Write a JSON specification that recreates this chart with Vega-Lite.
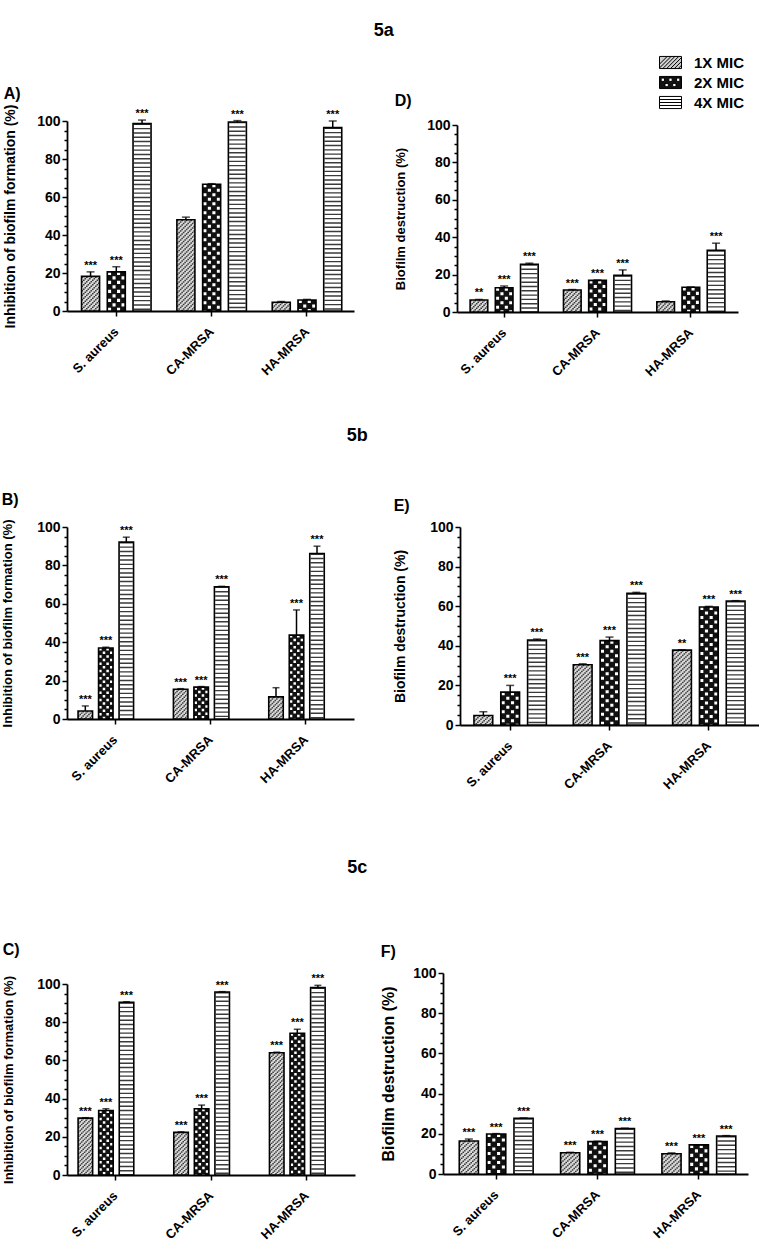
{
"$schema":"https://vega.github.io/schema/vega-lite/v6.json",
"padding":{"left":1,"top":21,"right":0,"bottom":0},
"datasets":{"bars":[
{"p":"A","org":"S. aureus","mic":"1X MIC","v":18.2,"hi":20.6,"sig":"***"},
{"p":"A","org":"S. aureus","mic":"2X MIC","v":20.6,"hi":23.3,"sig":"***"},
{"p":"A","org":"S. aureus","mic":"4X MIC","v":98.6,"hi":100.5,"sig":"***"},
{"p":"A","org":"CA-MRSA","mic":"1X MIC","v":48.0,"hi":49.4,"sig":""},
{"p":"A","org":"CA-MRSA","mic":"2X MIC","v":66.7,"hi":67.0,"sig":""},
{"p":"A","org":"CA-MRSA","mic":"4X MIC","v":99.5,"hi":100.2,"sig":"***"},
{"p":"A","org":"HA-MRSA","mic":"1X MIC","v":4.6,"hi":5.0,"sig":""},
{"p":"A","org":"HA-MRSA","mic":"2X MIC","v":5.8,"hi":6.1,"sig":""},
{"p":"A","org":"HA-MRSA","mic":"4X MIC","v":96.5,"hi":100.0,"sig":"***"},
{"p":"D","org":"S. aureus","mic":"1X MIC","v":6.4,"hi":6.7,"sig":"**"},
{"p":"D","org":"S. aureus","mic":"2X MIC","v":13.0,"hi":13.9,"sig":"***"},
{"p":"D","org":"S. aureus","mic":"4X MIC","v":25.5,"hi":26.1,"sig":"***"},
{"p":"D","org":"CA-MRSA","mic":"1X MIC","v":11.8,"hi":12.0,"sig":"***"},
{"p":"D","org":"CA-MRSA","mic":"2X MIC","v":16.9,"hi":17.1,"sig":"***"},
{"p":"D","org":"CA-MRSA","mic":"4X MIC","v":19.6,"hi":22.5,"sig":"***"},
{"p":"D","org":"HA-MRSA","mic":"1X MIC","v":5.5,"hi":5.9,"sig":""},
{"p":"D","org":"HA-MRSA","mic":"2X MIC","v":13.2,"hi":13.4,"sig":""},
{"p":"D","org":"HA-MRSA","mic":"4X MIC","v":33.0,"hi":36.8,"sig":"***"},
{"p":"B","org":"S. aureus","mic":"1X MIC","v":4.2,"hi":6.8,"sig":"***"},
{"p":"B","org":"S. aureus","mic":"2X MIC","v":37.0,"hi":37.4,"sig":"***"},
{"p":"B","org":"S. aureus","mic":"4X MIC","v":92.1,"hi":94.7,"sig":"***"},
{"p":"B","org":"CA-MRSA","mic":"1X MIC","v":15.5,"hi":15.8,"sig":"***"},
{"p":"B","org":"CA-MRSA","mic":"2X MIC","v":16.6,"hi":16.9,"sig":"***"},
{"p":"B","org":"CA-MRSA","mic":"4X MIC","v":68.9,"hi":69.1,"sig":"***"},
{"p":"B","org":"HA-MRSA","mic":"1X MIC","v":11.5,"hi":16.3,"sig":""},
{"p":"B","org":"HA-MRSA","mic":"2X MIC","v":43.7,"hi":56.8,"sig":"***"},
{"p":"B","org":"HA-MRSA","mic":"4X MIC","v":86.2,"hi":90.0,"sig":"***"},
{"p":"E","org":"S. aureus","mic":"1X MIC","v":4.8,"hi":6.7,"sig":""},
{"p":"E","org":"S. aureus","mic":"2X MIC","v":16.6,"hi":20.0,"sig":"***"},
{"p":"E","org":"S. aureus","mic":"4X MIC","v":42.9,"hi":43.4,"sig":"***"},
{"p":"E","org":"CA-MRSA","mic":"1X MIC","v":30.4,"hi":30.9,"sig":"***"},
{"p":"E","org":"CA-MRSA","mic":"2X MIC","v":42.6,"hi":44.4,"sig":"***"},
{"p":"E","org":"CA-MRSA","mic":"4X MIC","v":66.5,"hi":67.0,"sig":"***"},
{"p":"E","org":"HA-MRSA","mic":"1X MIC","v":37.8,"hi":38.0,"sig":"**"},
{"p":"E","org":"HA-MRSA","mic":"2X MIC","v":59.6,"hi":59.9,"sig":"***"},
{"p":"E","org":"HA-MRSA","mic":"4X MIC","v":62.6,"hi":62.8,"sig":"***"},
{"p":"C","org":"S. aureus","mic":"1X MIC","v":29.8,"hi":30.0,"sig":"***"},
{"p":"C","org":"S. aureus","mic":"2X MIC","v":33.8,"hi":34.7,"sig":"***"},
{"p":"C","org":"S. aureus","mic":"4X MIC","v":90.4,"hi":90.7,"sig":"***"},
{"p":"C","org":"CA-MRSA","mic":"1X MIC","v":22.3,"hi":22.6,"sig":"***"},
{"p":"C","org":"CA-MRSA","mic":"2X MIC","v":34.7,"hi":36.6,"sig":"***"},
{"p":"C","org":"CA-MRSA","mic":"4X MIC","v":95.8,"hi":96.0,"sig":"***"},
{"p":"C","org":"HA-MRSA","mic":"1X MIC","v":64.0,"hi":64.3,"sig":"***"},
{"p":"C","org":"HA-MRSA","mic":"2X MIC","v":74.2,"hi":76.3,"sig":"***"},
{"p":"C","org":"HA-MRSA","mic":"4X MIC","v":98.1,"hi":99.3,"sig":"***"},
{"p":"F","org":"S. aureus","mic":"1X MIC","v":16.4,"hi":17.4,"sig":"***"},
{"p":"F","org":"S. aureus","mic":"2X MIC","v":19.9,"hi":20.1,"sig":"***"},
{"p":"F","org":"S. aureus","mic":"4X MIC","v":27.7,"hi":27.9,"sig":"***"},
{"p":"F","org":"CA-MRSA","mic":"1X MIC","v":10.6,"hi":10.8,"sig":"***"},
{"p":"F","org":"CA-MRSA","mic":"2X MIC","v":16.1,"hi":16.3,"sig":"***"},
{"p":"F","org":"CA-MRSA","mic":"4X MIC","v":22.6,"hi":22.8,"sig":"***"},
{"p":"F","org":"HA-MRSA","mic":"1X MIC","v":10.1,"hi":10.5,"sig":"***"},
{"p":"F","org":"HA-MRSA","mic":"2X MIC","v":14.5,"hi":14.6,"sig":"***"},
{"p":"F","org":"HA-MRSA","mic":"4X MIC","v":18.9,"hi":19.1,"sig":"***"}
]},
"data":{"name":"bars"},
"config":{
"font":"Liberation Sans",
"view":{"stroke":null},
"title":{"fontWeight":"bold","color":"black"},
"axis":{"grid":false,"domainColor":"black","domainWidth":1.8,"tickColor":"black","tickWidth":1.5,"labelColor":"black","labelFontWeight":"bold","titleColor":"black","titleFontWeight":"bold"},
"axisX":{"labelAngle":-45,"labelFontSize":13,"tickSize":5,"labelPadding":9,"labelOffset":-4},
"axisY":{"labelFontSize":14,"labelPadding":2},
"legend":{"orient":"none","legendX":592,"legendY":-70,"symbolSize":484,"symbolStrokeColor":"black","symbolStrokeWidth":1,"symbolOpacity":1,"labelFontSize":15,"labelFontWeight":"bold","labelColor":"black","labelOffset":12,"rowPadding":-1,"padding":0}
},
"resolve":{"scale":{"xOffset":"independent"}},
"spacing":67,
"vconcat":[
{"spacing":48,"resolve":{"scale":{"xOffset":"independent"}},"vconcat":[
{"title":{"text":"5a","fontSize":18,"anchor":"middle","dx":13,"offset":46},"spacing":40,"resolve":{"scale":{"xOffset":"independent"}},"hconcat":[
{"width":287,"height":190,
"title":{"text":"A)","anchor":"start","frame":"bounds","fontSize":16,"offset":2.5},
"transform":[{"filter":"datum.p == 'A'"}],
"encoding":{
"x":{"field":"org","type":"nominal","title":null,"scale":{"type":"band","domain":["S. aureus","CA-MRSA","HA-MRSA"],"paddingInner":0.19,"paddingOuter":0.1,"align":0.56}},
"xOffset":{"field":"mic","type":"nominal","scale":{"type":"band","domain":["1X MIC","2X MIC","4X MIC"],"paddingInner":0.3,"paddingOuter":0.15}},
"y":{"field":"v","type":"quantitative","scale":{"domain":[0,100]},"axis":{"title":"Inhibition of biofilm formation (%)","titleFontSize":14,"titlePadding":19,"values":[0,5,10,15,20,25,30,35,40,45,50,55,60,65,70,75,80,85,90,95,100],"labelExpr":"datum.value % 20 === 0 ? datum.label : ''","tickSize":{"condition":{"test":"datum.value % 20 === 0","value":5},"value":3}}}},
"layer":[
{"mark":{"type":"bar","strokeWidth":0},"encoding":{"fill":{"condition":[{"test":"datum.mic == '1X MIC'","value":"#dcdcdc"},{"test":"datum.mic == '2X MIC'","value":"#111111"}],"value":"#ffffff"}}},
{"transform":[{"filter":"datum.mic == '4X MIC'"}],"mark":{"type":"rule","color":"#3a3a3a","strokeWidth":16.5,"strokeDash":[1.4,2.9]},"encoding":{"y2":{"datum":0}}},
{"transform":[{"filter":"datum.mic == '2X MIC'"}],"encoding":{"y2":{"datum":0}},"resolve":{"scale":{"xOffset":"independent"}},"layer":[
{"mark":{"type":"rule","color":"#fff","strokeWidth":3.1,"strokeDash":[3.1,5.9],"strokeDashOffset":0},"encoding":{"xOffset":{"field":"mic","type":"nominal","scale":{"type":"band","domain":["1X MIC","2X MIC","4X MIC"],"paddingInner":1,"paddingOuter":0.5,"align":0.2375}}}},
{"mark":{"type":"rule","color":"#fff","strokeWidth":3.1,"strokeDash":[3.1,5.9],"strokeDashOffset":4.5},"encoding":{"xOffset":{"field":"mic","type":"nominal","scale":{"type":"band","domain":["1X MIC","2X MIC","4X MIC"],"paddingInner":1,"paddingOuter":0.5,"align":0.4125}}}},
{"mark":{"type":"rule","color":"#fff","strokeWidth":3.1,"strokeDash":[3.1,5.9],"strokeDashOffset":0},"encoding":{"xOffset":{"field":"mic","type":"nominal","scale":{"type":"band","domain":["1X MIC","2X MIC","4X MIC"],"paddingInner":1,"paddingOuter":0.5,"align":0.5875}}}},
{"mark":{"type":"rule","color":"#fff","strokeWidth":3.1,"strokeDash":[3.1,5.9],"strokeDashOffset":4.5},"encoding":{"xOffset":{"field":"mic","type":"nominal","scale":{"type":"band","domain":["1X MIC","2X MIC","4X MIC"],"paddingInner":1,"paddingOuter":0.5,"align":0.7625}}}}
]},
{"transform":[{"filter":"datum.mic == '1X MIC'"}],"encoding":{"y2":{"datum":0}},"resolve":{"scale":{"xOffset":"independent"}},"layer":[
{"mark":{"type":"rule","color":"#3a3a3a","strokeWidth":1.6,"strokeDash":[1.5,3],"strokeDashOffset":0},"encoding":{"xOffset":{"field":"mic","type":"nominal","scale":{"type":"band","domain":["1X MIC","2X MIC","4X MIC"],"paddingInner":1,"paddingOuter":0.5,"align":0.1792}}}},
{"mark":{"type":"rule","color":"#3a3a3a","strokeWidth":1.6,"strokeDash":[1.5,3],"strokeDashOffset":1.5},"encoding":{"xOffset":{"field":"mic","type":"nominal","scale":{"type":"band","domain":["1X MIC","2X MIC","4X MIC"],"paddingInner":1,"paddingOuter":0.5,"align":0.2375}}}},
{"mark":{"type":"rule","color":"#3a3a3a","strokeWidth":1.6,"strokeDash":[1.5,3],"strokeDashOffset":3},"encoding":{"xOffset":{"field":"mic","type":"nominal","scale":{"type":"band","domain":["1X MIC","2X MIC","4X MIC"],"paddingInner":1,"paddingOuter":0.5,"align":0.2958}}}},
{"mark":{"type":"rule","color":"#3a3a3a","strokeWidth":1.6,"strokeDash":[1.5,3],"strokeDashOffset":0},"encoding":{"xOffset":{"field":"mic","type":"nominal","scale":{"type":"band","domain":["1X MIC","2X MIC","4X MIC"],"paddingInner":1,"paddingOuter":0.5,"align":0.3542}}}},
{"mark":{"type":"rule","color":"#3a3a3a","strokeWidth":1.6,"strokeDash":[1.5,3],"strokeDashOffset":1.5},"encoding":{"xOffset":{"field":"mic","type":"nominal","scale":{"type":"band","domain":["1X MIC","2X MIC","4X MIC"],"paddingInner":1,"paddingOuter":0.5,"align":0.4125}}}},
{"mark":{"type":"rule","color":"#3a3a3a","strokeWidth":1.6,"strokeDash":[1.5,3],"strokeDashOffset":3},"encoding":{"xOffset":{"field":"mic","type":"nominal","scale":{"type":"band","domain":["1X MIC","2X MIC","4X MIC"],"paddingInner":1,"paddingOuter":0.5,"align":0.4708}}}},
{"mark":{"type":"rule","color":"#3a3a3a","strokeWidth":1.6,"strokeDash":[1.5,3],"strokeDashOffset":0},"encoding":{"xOffset":{"field":"mic","type":"nominal","scale":{"type":"band","domain":["1X MIC","2X MIC","4X MIC"],"paddingInner":1,"paddingOuter":0.5,"align":0.5292}}}},
{"mark":{"type":"rule","color":"#3a3a3a","strokeWidth":1.6,"strokeDash":[1.5,3],"strokeDashOffset":1.5},"encoding":{"xOffset":{"field":"mic","type":"nominal","scale":{"type":"band","domain":["1X MIC","2X MIC","4X MIC"],"paddingInner":1,"paddingOuter":0.5,"align":0.5875}}}},
{"mark":{"type":"rule","color":"#3a3a3a","strokeWidth":1.6,"strokeDash":[1.5,3],"strokeDashOffset":3},"encoding":{"xOffset":{"field":"mic","type":"nominal","scale":{"type":"band","domain":["1X MIC","2X MIC","4X MIC"],"paddingInner":1,"paddingOuter":0.5,"align":0.6458}}}},
{"mark":{"type":"rule","color":"#3a3a3a","strokeWidth":1.6,"strokeDash":[1.5,3],"strokeDashOffset":0},"encoding":{"xOffset":{"field":"mic","type":"nominal","scale":{"type":"band","domain":["1X MIC","2X MIC","4X MIC"],"paddingInner":1,"paddingOuter":0.5,"align":0.7042}}}},
{"mark":{"type":"rule","color":"#3a3a3a","strokeWidth":1.6,"strokeDash":[1.5,3],"strokeDashOffset":1.5},"encoding":{"xOffset":{"field":"mic","type":"nominal","scale":{"type":"band","domain":["1X MIC","2X MIC","4X MIC"],"paddingInner":1,"paddingOuter":0.5,"align":0.7625}}}},
{"mark":{"type":"rule","color":"#3a3a3a","strokeWidth":1.6,"strokeDash":[1.5,3],"strokeDashOffset":3},"encoding":{"xOffset":{"field":"mic","type":"nominal","scale":{"type":"band","domain":["1X MIC","2X MIC","4X MIC"],"paddingInner":1,"paddingOuter":0.5,"align":0.8208}}}}
]},
{"mark":{"type":"bar","fillOpacity":0,"stroke":"black","strokeWidth":1.6}},
{"mark":{"type":"rule","color":"black","strokeWidth":1.5},"encoding":{"y":{"field":"hi","type":"quantitative"},"y2":{"field":"v"}}},
{"mark":{"type":"tick","color":"black","thickness":1.5,"size":8},"encoding":{"y":{"field":"hi","type":"quantitative"}}},
{"transform":[{"filter":"datum.sig != ''"}],"mark":{"type":"text","fontSize":11,"fontWeight":"bold","baseline":"alphabetic","dy":-3},"encoding":{"y":{"field":"hi","type":"quantitative"},"text":{"field":"sig"}}}
]},
{"spacing":3,"bounds":"flush","resolve":{"scale":{"xOffset":"independent"}},"vconcat":[
{"width":20,"height":1,"transform":[{"filter":"false"}],"mark":{"type":"point","opacity":0}},
{"width":281,"height":187,
"title":{"text":"D)","anchor":"start","frame":"bounds","fontSize":16,"offset":9},
"transform":[{"filter":"datum.p == 'D'"}],
"encoding":{
"x":{"field":"org","type":"nominal","title":null,"scale":{"type":"band","domain":["S. aureus","CA-MRSA","HA-MRSA"],"paddingInner":0.19,"paddingOuter":0.1,"align":0.5}},
"xOffset":{"field":"mic","type":"nominal","scale":{"type":"band","domain":["1X MIC","2X MIC","4X MIC"],"paddingInner":0.3,"paddingOuter":0.15}},
"y":{"field":"v","type":"quantitative","scale":{"domain":[0,100]},"axis":{"title":"Biofilm destruction (%)","titleFontSize":13,"titlePadding":19,"values":[0,5,10,15,20,25,30,35,40,45,50,55,60,65,70,75,80,85,90,95,100],"labelExpr":"datum.value % 20 === 0 ? datum.label : ''","tickSize":{"condition":{"test":"datum.value % 20 === 0","value":5},"value":3}}}},
"layer":[
{"mark":{"type":"bar","strokeWidth":0},"encoding":{"fill":{"condition":[{"test":"datum.mic == '1X MIC'","value":"#dcdcdc"},{"test":"datum.mic == '2X MIC'","value":"#111111"}],"value":"#ffffff"}}},
{"transform":[{"filter":"datum.mic == '4X MIC'"}],"mark":{"type":"rule","color":"#3a3a3a","strokeWidth":16,"strokeDash":[1.4,2.9]},"encoding":{"y2":{"datum":0}}},
{"transform":[{"filter":"datum.mic == '2X MIC'"}],"encoding":{"y2":{"datum":0}},"resolve":{"scale":{"xOffset":"independent"}},"layer":[
{"mark":{"type":"rule","color":"#fff","strokeWidth":3.1,"strokeDash":[3.1,5.9],"strokeDashOffset":0},"encoding":{"xOffset":{"field":"mic","type":"nominal","scale":{"type":"band","domain":["1X MIC","2X MIC","4X MIC"],"paddingInner":1,"paddingOuter":0.5,"align":0.2375}}}},
{"mark":{"type":"rule","color":"#fff","strokeWidth":3.1,"strokeDash":[3.1,5.9],"strokeDashOffset":4.5},"encoding":{"xOffset":{"field":"mic","type":"nominal","scale":{"type":"band","domain":["1X MIC","2X MIC","4X MIC"],"paddingInner":1,"paddingOuter":0.5,"align":0.4125}}}},
{"mark":{"type":"rule","color":"#fff","strokeWidth":3.1,"strokeDash":[3.1,5.9],"strokeDashOffset":0},"encoding":{"xOffset":{"field":"mic","type":"nominal","scale":{"type":"band","domain":["1X MIC","2X MIC","4X MIC"],"paddingInner":1,"paddingOuter":0.5,"align":0.5875}}}},
{"mark":{"type":"rule","color":"#fff","strokeWidth":3.1,"strokeDash":[3.1,5.9],"strokeDashOffset":4.5},"encoding":{"xOffset":{"field":"mic","type":"nominal","scale":{"type":"band","domain":["1X MIC","2X MIC","4X MIC"],"paddingInner":1,"paddingOuter":0.5,"align":0.7625}}}}
]},
{"transform":[{"filter":"datum.mic == '1X MIC'"}],"encoding":{"y2":{"datum":0}},"resolve":{"scale":{"xOffset":"independent"}},"layer":[
{"mark":{"type":"rule","color":"#3a3a3a","strokeWidth":1.6,"strokeDash":[1.5,3],"strokeDashOffset":0},"encoding":{"xOffset":{"field":"mic","type":"nominal","scale":{"type":"band","domain":["1X MIC","2X MIC","4X MIC"],"paddingInner":1,"paddingOuter":0.5,"align":0.1792}}}},
{"mark":{"type":"rule","color":"#3a3a3a","strokeWidth":1.6,"strokeDash":[1.5,3],"strokeDashOffset":1.5},"encoding":{"xOffset":{"field":"mic","type":"nominal","scale":{"type":"band","domain":["1X MIC","2X MIC","4X MIC"],"paddingInner":1,"paddingOuter":0.5,"align":0.2375}}}},
{"mark":{"type":"rule","color":"#3a3a3a","strokeWidth":1.6,"strokeDash":[1.5,3],"strokeDashOffset":3},"encoding":{"xOffset":{"field":"mic","type":"nominal","scale":{"type":"band","domain":["1X MIC","2X MIC","4X MIC"],"paddingInner":1,"paddingOuter":0.5,"align":0.2958}}}},
{"mark":{"type":"rule","color":"#3a3a3a","strokeWidth":1.6,"strokeDash":[1.5,3],"strokeDashOffset":0},"encoding":{"xOffset":{"field":"mic","type":"nominal","scale":{"type":"band","domain":["1X MIC","2X MIC","4X MIC"],"paddingInner":1,"paddingOuter":0.5,"align":0.3542}}}},
{"mark":{"type":"rule","color":"#3a3a3a","strokeWidth":1.6,"strokeDash":[1.5,3],"strokeDashOffset":1.5},"encoding":{"xOffset":{"field":"mic","type":"nominal","scale":{"type":"band","domain":["1X MIC","2X MIC","4X MIC"],"paddingInner":1,"paddingOuter":0.5,"align":0.4125}}}},
{"mark":{"type":"rule","color":"#3a3a3a","strokeWidth":1.6,"strokeDash":[1.5,3],"strokeDashOffset":3},"encoding":{"xOffset":{"field":"mic","type":"nominal","scale":{"type":"band","domain":["1X MIC","2X MIC","4X MIC"],"paddingInner":1,"paddingOuter":0.5,"align":0.4708}}}},
{"mark":{"type":"rule","color":"#3a3a3a","strokeWidth":1.6,"strokeDash":[1.5,3],"strokeDashOffset":0},"encoding":{"xOffset":{"field":"mic","type":"nominal","scale":{"type":"band","domain":["1X MIC","2X MIC","4X MIC"],"paddingInner":1,"paddingOuter":0.5,"align":0.5292}}}},
{"mark":{"type":"rule","color":"#3a3a3a","strokeWidth":1.6,"strokeDash":[1.5,3],"strokeDashOffset":1.5},"encoding":{"xOffset":{"field":"mic","type":"nominal","scale":{"type":"band","domain":["1X MIC","2X MIC","4X MIC"],"paddingInner":1,"paddingOuter":0.5,"align":0.5875}}}},
{"mark":{"type":"rule","color":"#3a3a3a","strokeWidth":1.6,"strokeDash":[1.5,3],"strokeDashOffset":3},"encoding":{"xOffset":{"field":"mic","type":"nominal","scale":{"type":"band","domain":["1X MIC","2X MIC","4X MIC"],"paddingInner":1,"paddingOuter":0.5,"align":0.6458}}}},
{"mark":{"type":"rule","color":"#3a3a3a","strokeWidth":1.6,"strokeDash":[1.5,3],"strokeDashOffset":0},"encoding":{"xOffset":{"field":"mic","type":"nominal","scale":{"type":"band","domain":["1X MIC","2X MIC","4X MIC"],"paddingInner":1,"paddingOuter":0.5,"align":0.7042}}}},
{"mark":{"type":"rule","color":"#3a3a3a","strokeWidth":1.6,"strokeDash":[1.5,3],"strokeDashOffset":1.5},"encoding":{"xOffset":{"field":"mic","type":"nominal","scale":{"type":"band","domain":["1X MIC","2X MIC","4X MIC"],"paddingInner":1,"paddingOuter":0.5,"align":0.7625}}}},
{"mark":{"type":"rule","color":"#3a3a3a","strokeWidth":1.6,"strokeDash":[1.5,3],"strokeDashOffset":3},"encoding":{"xOffset":{"field":"mic","type":"nominal","scale":{"type":"band","domain":["1X MIC","2X MIC","4X MIC"],"paddingInner":1,"paddingOuter":0.5,"align":0.8208}}}}
]},
{"mark":{"type":"bar","fillOpacity":0,"stroke":"black","strokeWidth":1.6}},
{"mark":{"type":"rule","color":"black","strokeWidth":1.5},"encoding":{"y":{"field":"hi","type":"quantitative"},"y2":{"field":"v"}}},
{"mark":{"type":"tick","color":"black","thickness":1.5,"size":8},"encoding":{"y":{"field":"hi","type":"quantitative"}}},
{"transform":[{"filter":"datum.sig != ''"}],"mark":{"type":"text","fontSize":11,"fontWeight":"bold","baseline":"alphabetic","dy":-3},"encoding":{"y":{"field":"hi","type":"quantitative"},"text":{"field":"sig"}}},
{"mark":{"type":"point","filled":true,"opacity":0,"stroke":"black"},"encoding":{
"fill":{"field":"mic","type":"nominal","scale":{"domain":["1X MIC","2X MIC","4X MIC"],"range":["#cfcfcf","#111111","#ffffff"]},"legend":{"title":null,"encode":{"symbols":{"update":{"stroke":{"value":"black"},"strokeWidth":{"value":1},"strokeOpacity":{"value":1},"opacity":{"value":1}}}}}},
"shape":{"field":"mic","type":"nominal","scale":{"domain":["1X MIC","2X MIC","4X MIC"],"range":["M-1,-0.55H1V0.55H-1Z M-1,0.15L-0.3,-0.55 M-1,0.5L0.05,-0.55 M-0.7,0.55L0.4,-0.55 M-0.35,0.55L0.75,-0.55 M0,0.55L1,-0.45 M0.35,0.55L1,-0.1 M0.7,0.55L1,0.25","M-1,-0.55H1V0.55H-1Z M-0.85,-0.4V-0.1H-0.55V-0.4Z M-0.15,-0.4V-0.1H0.15V-0.4Z M0.55,-0.4V-0.1H0.85V-0.4Z M-0.5,0.08V0.38H-0.2V0.08Z M0.2,0.08V0.38H0.5V0.08Z","M-1,-0.55H1V0.55H-1Z M-1,-0.27H1 M-1,0H1 M-1,0.27H1"]},"legend":{"title":null,"encode":{"symbols":{"update":{"stroke":{"value":"black"},"strokeWidth":{"value":1},"strokeOpacity":{"value":1},"opacity":{"value":1}}}}}}}}
]}
]}
]},
{"title":{"text":"5b","fontSize":18,"anchor":"middle","dx":-23,"offset":47},"spacing":39,"resolve":{"scale":{"xOffset":"independent"}},"hconcat":[
{"width":287,"height":192,
"title":{"text":"B)","anchor":"start","frame":"bounds","fontSize":16,"offset":11},
"transform":[{"filter":"datum.p == 'B'"}],
"encoding":{
"x":{"field":"org","type":"nominal","title":null,"scale":{"type":"band","domain":["S. aureus","CA-MRSA","HA-MRSA"],"paddingInner":0.19,"paddingOuter":0.1,"align":0.5}},
"xOffset":{"field":"mic","type":"nominal","scale":{"type":"band","domain":["1X MIC","2X MIC","4X MIC"],"paddingInner":0.293,"paddingOuter":0.53,"align":0.07}},
"y":{"field":"v","type":"quantitative","scale":{"domain":[0,100]},"axis":{"title":"Inhibition of biofilm formation (%)","titleFontSize":13,"titlePadding":22,"values":[0,5,10,15,20,25,30,35,40,45,50,55,60,65,70,75,80,85,90,95,100],"labelExpr":"datum.value % 20 === 0 ? datum.label : ''","tickSize":{"condition":{"test":"datum.value % 20 === 0","value":5},"value":3}}}},
"layer":[
{"mark":{"type":"bar","strokeWidth":0},"encoding":{"fill":{"condition":[{"test":"datum.mic == '1X MIC'","value":"#dcdcdc"},{"test":"datum.mic == '2X MIC'","value":"#111111"}],"value":"#ffffff"}}},
{"transform":[{"filter":"datum.mic == '4X MIC'"}],"mark":{"type":"rule","color":"#3a3a3a","strokeWidth":13,"strokeDash":[1.4,2.9]},"encoding":{"y2":{"datum":0}}},
{"transform":[{"filter":"datum.mic == '2X MIC'"}],"encoding":{"y2":{"datum":0}},"resolve":{"scale":{"xOffset":"independent"}},"layer":[
{"mark":{"type":"rule","color":"#fff","strokeWidth":2.5,"strokeDash":[2.5,4.74],"strokeDashOffset":0},"encoding":{"xOffset":{"field":"mic","type":"nominal","scale":{"type":"band","domain":["1X MIC","2X MIC","4X MIC"],"paddingInner":1,"paddingOuter":0.8835,"align":0.0919}}}},
{"mark":{"type":"rule","color":"#fff","strokeWidth":2.5,"strokeDash":[2.5,4.74],"strokeDashOffset":3.62},"encoding":{"xOffset":{"field":"mic","type":"nominal","scale":{"type":"band","domain":["1X MIC","2X MIC","4X MIC"],"paddingInner":1,"paddingOuter":0.8835,"align":0.1918}}}},
{"mark":{"type":"rule","color":"#fff","strokeWidth":2.5,"strokeDash":[2.5,4.74],"strokeDashOffset":0},"encoding":{"xOffset":{"field":"mic","type":"nominal","scale":{"type":"band","domain":["1X MIC","2X MIC","4X MIC"],"paddingInner":1,"paddingOuter":0.8835,"align":0.2917}}}},
{"mark":{"type":"rule","color":"#fff","strokeWidth":2.5,"strokeDash":[2.5,4.74],"strokeDashOffset":3.62},"encoding":{"xOffset":{"field":"mic","type":"nominal","scale":{"type":"band","domain":["1X MIC","2X MIC","4X MIC"],"paddingInner":1,"paddingOuter":0.8835,"align":0.3917}}}}
]},
{"transform":[{"filter":"datum.mic == '1X MIC'"}],"encoding":{"y2":{"datum":0}},"resolve":{"scale":{"xOffset":"independent"}},"layer":[
{"mark":{"type":"rule","color":"#3a3a3a","strokeWidth":1.55,"strokeDash":[1.45,2.9],"strokeDashOffset":0},"encoding":{"xOffset":{"field":"mic","type":"nominal","scale":{"type":"band","domain":["1X MIC","2X MIC","4X MIC"],"paddingInner":1,"paddingOuter":0.8835,"align":0.0620}}}},
{"mark":{"type":"rule","color":"#3a3a3a","strokeWidth":1.55,"strokeDash":[1.45,2.9],"strokeDashOffset":1.45},"encoding":{"xOffset":{"field":"mic","type":"nominal","scale":{"type":"band","domain":["1X MIC","2X MIC","4X MIC"],"paddingInner":1,"paddingOuter":0.8835,"align":0.1019}}}},
{"mark":{"type":"rule","color":"#3a3a3a","strokeWidth":1.55,"strokeDash":[1.45,2.9],"strokeDashOffset":2.9},"encoding":{"xOffset":{"field":"mic","type":"nominal","scale":{"type":"band","domain":["1X MIC","2X MIC","4X MIC"],"paddingInner":1,"paddingOuter":0.8835,"align":0.1419}}}},
{"mark":{"type":"rule","color":"#3a3a3a","strokeWidth":1.55,"strokeDash":[1.45,2.9],"strokeDashOffset":0},"encoding":{"xOffset":{"field":"mic","type":"nominal","scale":{"type":"band","domain":["1X MIC","2X MIC","4X MIC"],"paddingInner":1,"paddingOuter":0.8835,"align":0.1819}}}},
{"mark":{"type":"rule","color":"#3a3a3a","strokeWidth":1.55,"strokeDash":[1.45,2.9],"strokeDashOffset":1.45},"encoding":{"xOffset":{"field":"mic","type":"nominal","scale":{"type":"band","domain":["1X MIC","2X MIC","4X MIC"],"paddingInner":1,"paddingOuter":0.8835,"align":0.2219}}}},
{"mark":{"type":"rule","color":"#3a3a3a","strokeWidth":1.55,"strokeDash":[1.45,2.9],"strokeDashOffset":2.9},"encoding":{"xOffset":{"field":"mic","type":"nominal","scale":{"type":"band","domain":["1X MIC","2X MIC","4X MIC"],"paddingInner":1,"paddingOuter":0.8835,"align":0.2619}}}},
{"mark":{"type":"rule","color":"#3a3a3a","strokeWidth":1.55,"strokeDash":[1.45,2.9],"strokeDashOffset":0},"encoding":{"xOffset":{"field":"mic","type":"nominal","scale":{"type":"band","domain":["1X MIC","2X MIC","4X MIC"],"paddingInner":1,"paddingOuter":0.8835,"align":0.3019}}}},
{"mark":{"type":"rule","color":"#3a3a3a","strokeWidth":1.55,"strokeDash":[1.45,2.9],"strokeDashOffset":1.45},"encoding":{"xOffset":{"field":"mic","type":"nominal","scale":{"type":"band","domain":["1X MIC","2X MIC","4X MIC"],"paddingInner":1,"paddingOuter":0.8835,"align":0.3419}}}},
{"mark":{"type":"rule","color":"#3a3a3a","strokeWidth":1.55,"strokeDash":[1.45,2.9],"strokeDashOffset":2.9},"encoding":{"xOffset":{"field":"mic","type":"nominal","scale":{"type":"band","domain":["1X MIC","2X MIC","4X MIC"],"paddingInner":1,"paddingOuter":0.8835,"align":0.3819}}}},
{"mark":{"type":"rule","color":"#3a3a3a","strokeWidth":1.55,"strokeDash":[1.45,2.9],"strokeDashOffset":0},"encoding":{"xOffset":{"field":"mic","type":"nominal","scale":{"type":"band","domain":["1X MIC","2X MIC","4X MIC"],"paddingInner":1,"paddingOuter":0.8835,"align":0.4219}}}}
]},
{"mark":{"type":"bar","fillOpacity":0,"stroke":"black","strokeWidth":1.6}},
{"mark":{"type":"rule","color":"black","strokeWidth":1.5},"encoding":{"y":{"field":"hi","type":"quantitative"},"y2":{"field":"v"}}},
{"mark":{"type":"tick","color":"black","thickness":1.5,"size":7}, "encoding":{"y":{"field":"hi","type":"quantitative"}}},
{"transform":[{"filter":"datum.sig != ''"}],"mark":{"type":"text","fontSize":11,"fontWeight":"bold","baseline":"alphabetic","dy":-3},"encoding":{"y":{"field":"hi","type":"quantitative"},"text":{"field":"sig"}}}
]},
{"width":299,"height":198,
"title":{"text":"E)","anchor":"start","frame":"bounds","fontSize":16,"offset":6},
"transform":[{"filter":"datum.p == 'E'"}],
"encoding":{
"x":{"field":"org","type":"nominal","title":null,"scale":{"type":"band","domain":["S. aureus","CA-MRSA","HA-MRSA"],"paddingInner":0.19,"paddingOuter":0.1,"align":0.5}},
"xOffset":{"field":"mic","type":"nominal","scale":{"type":"band","domain":["1X MIC","2X MIC","4X MIC"],"paddingInner":0.3,"paddingOuter":0.15}},
"y":{"field":"v","type":"quantitative","scale":{"domain":[0,100]},"axis":{"title":"Biofilm destruction (%)","titleFontSize":14,"titlePadding":22,"values":[0,5,10,15,20,25,30,35,40,45,50,55,60,65,70,75,80,85,90,95,100],"labelExpr":"datum.value % 20 === 0 ? datum.label : ''","tickSize":{"condition":{"test":"datum.value % 20 === 0","value":5},"value":3}}}},
"layer":[
{"mark":{"type":"bar","strokeWidth":0},"encoding":{"fill":{"condition":[{"test":"datum.mic == '1X MIC'","value":"#dcdcdc"},{"test":"datum.mic == '2X MIC'","value":"#111111"}],"value":"#ffffff"}}},
{"transform":[{"filter":"datum.mic == '4X MIC'"}],"mark":{"type":"rule","color":"#3a3a3a","strokeWidth":17.3,"strokeDash":[1.4,2.9]},"encoding":{"y2":{"datum":0}}},
{"transform":[{"filter":"datum.mic == '2X MIC'"}],"encoding":{"y2":{"datum":0}},"resolve":{"scale":{"xOffset":"independent"}},"layer":[
{"mark":{"type":"rule","color":"#fff","strokeWidth":3.1,"strokeDash":[3.1,5.9],"strokeDashOffset":0},"encoding":{"xOffset":{"field":"mic","type":"nominal","scale":{"type":"band","domain":["1X MIC","2X MIC","4X MIC"],"paddingInner":1,"paddingOuter":0.5,"align":0.2375}}}},
{"mark":{"type":"rule","color":"#fff","strokeWidth":3.1,"strokeDash":[3.1,5.9],"strokeDashOffset":4.5},"encoding":{"xOffset":{"field":"mic","type":"nominal","scale":{"type":"band","domain":["1X MIC","2X MIC","4X MIC"],"paddingInner":1,"paddingOuter":0.5,"align":0.4125}}}},
{"mark":{"type":"rule","color":"#fff","strokeWidth":3.1,"strokeDash":[3.1,5.9],"strokeDashOffset":0},"encoding":{"xOffset":{"field":"mic","type":"nominal","scale":{"type":"band","domain":["1X MIC","2X MIC","4X MIC"],"paddingInner":1,"paddingOuter":0.5,"align":0.5875}}}},
{"mark":{"type":"rule","color":"#fff","strokeWidth":3.1,"strokeDash":[3.1,5.9],"strokeDashOffset":4.5},"encoding":{"xOffset":{"field":"mic","type":"nominal","scale":{"type":"band","domain":["1X MIC","2X MIC","4X MIC"],"paddingInner":1,"paddingOuter":0.5,"align":0.7625}}}}
]},
{"transform":[{"filter":"datum.mic == '1X MIC'"}],"encoding":{"y2":{"datum":0}},"resolve":{"scale":{"xOffset":"independent"}},"layer":[
{"mark":{"type":"rule","color":"#3a3a3a","strokeWidth":1.6,"strokeDash":[1.5,3],"strokeDashOffset":0},"encoding":{"xOffset":{"field":"mic","type":"nominal","scale":{"type":"band","domain":["1X MIC","2X MIC","4X MIC"],"paddingInner":1,"paddingOuter":0.5,"align":0.1792}}}},
{"mark":{"type":"rule","color":"#3a3a3a","strokeWidth":1.6,"strokeDash":[1.5,3],"strokeDashOffset":1.5},"encoding":{"xOffset":{"field":"mic","type":"nominal","scale":{"type":"band","domain":["1X MIC","2X MIC","4X MIC"],"paddingInner":1,"paddingOuter":0.5,"align":0.2375}}}},
{"mark":{"type":"rule","color":"#3a3a3a","strokeWidth":1.6,"strokeDash":[1.5,3],"strokeDashOffset":3},"encoding":{"xOffset":{"field":"mic","type":"nominal","scale":{"type":"band","domain":["1X MIC","2X MIC","4X MIC"],"paddingInner":1,"paddingOuter":0.5,"align":0.2958}}}},
{"mark":{"type":"rule","color":"#3a3a3a","strokeWidth":1.6,"strokeDash":[1.5,3],"strokeDashOffset":0},"encoding":{"xOffset":{"field":"mic","type":"nominal","scale":{"type":"band","domain":["1X MIC","2X MIC","4X MIC"],"paddingInner":1,"paddingOuter":0.5,"align":0.3542}}}},
{"mark":{"type":"rule","color":"#3a3a3a","strokeWidth":1.6,"strokeDash":[1.5,3],"strokeDashOffset":1.5},"encoding":{"xOffset":{"field":"mic","type":"nominal","scale":{"type":"band","domain":["1X MIC","2X MIC","4X MIC"],"paddingInner":1,"paddingOuter":0.5,"align":0.4125}}}},
{"mark":{"type":"rule","color":"#3a3a3a","strokeWidth":1.6,"strokeDash":[1.5,3],"strokeDashOffset":3},"encoding":{"xOffset":{"field":"mic","type":"nominal","scale":{"type":"band","domain":["1X MIC","2X MIC","4X MIC"],"paddingInner":1,"paddingOuter":0.5,"align":0.4708}}}},
{"mark":{"type":"rule","color":"#3a3a3a","strokeWidth":1.6,"strokeDash":[1.5,3],"strokeDashOffset":0},"encoding":{"xOffset":{"field":"mic","type":"nominal","scale":{"type":"band","domain":["1X MIC","2X MIC","4X MIC"],"paddingInner":1,"paddingOuter":0.5,"align":0.5292}}}},
{"mark":{"type":"rule","color":"#3a3a3a","strokeWidth":1.6,"strokeDash":[1.5,3],"strokeDashOffset":1.5},"encoding":{"xOffset":{"field":"mic","type":"nominal","scale":{"type":"band","domain":["1X MIC","2X MIC","4X MIC"],"paddingInner":1,"paddingOuter":0.5,"align":0.5875}}}},
{"mark":{"type":"rule","color":"#3a3a3a","strokeWidth":1.6,"strokeDash":[1.5,3],"strokeDashOffset":3},"encoding":{"xOffset":{"field":"mic","type":"nominal","scale":{"type":"band","domain":["1X MIC","2X MIC","4X MIC"],"paddingInner":1,"paddingOuter":0.5,"align":0.6458}}}},
{"mark":{"type":"rule","color":"#3a3a3a","strokeWidth":1.6,"strokeDash":[1.5,3],"strokeDashOffset":0},"encoding":{"xOffset":{"field":"mic","type":"nominal","scale":{"type":"band","domain":["1X MIC","2X MIC","4X MIC"],"paddingInner":1,"paddingOuter":0.5,"align":0.7042}}}},
{"mark":{"type":"rule","color":"#3a3a3a","strokeWidth":1.6,"strokeDash":[1.5,3],"strokeDashOffset":1.5},"encoding":{"xOffset":{"field":"mic","type":"nominal","scale":{"type":"band","domain":["1X MIC","2X MIC","4X MIC"],"paddingInner":1,"paddingOuter":0.5,"align":0.7625}}}},
{"mark":{"type":"rule","color":"#3a3a3a","strokeWidth":1.6,"strokeDash":[1.5,3],"strokeDashOffset":3},"encoding":{"xOffset":{"field":"mic","type":"nominal","scale":{"type":"band","domain":["1X MIC","2X MIC","4X MIC"],"paddingInner":1,"paddingOuter":0.5,"align":0.8208}}}}
]},
{"mark":{"type":"bar","fillOpacity":0,"stroke":"black","strokeWidth":1.6}},
{"mark":{"type":"rule","color":"black","strokeWidth":1.5},"encoding":{"y":{"field":"hi","type":"quantitative"},"y2":{"field":"v"}}},
{"mark":{"type":"tick","color":"black","thickness":1.5,"size":8},"encoding":{"y":{"field":"hi","type":"quantitative"}}},
{"transform":[{"filter":"datum.sig != ''"}],"mark":{"type":"text","fontSize":11,"fontWeight":"bold","baseline":"alphabetic","dy":-3},"encoding":{"y":{"field":"hi","type":"quantitative"},"text":{"field":"sig"}}}
]}
]}
]},
{"title":{"text":"5c","fontSize":18,"anchor":"middle","dx":-18,"offset":65},"spacing":25,"resolve":{"scale":{"xOffset":"independent"}},"hconcat":[
{"spacing":10,"bounds":"flush","resolve":{"scale":{"xOffset":"independent"}},"vconcat":[
{"width":20,"height":1,"transform":[{"filter":"false"}],"mark":{"type":"point","opacity":0}},
{"width":288,"height":191,
"title":{"text":"C)","anchor":"start","frame":"bounds","fontSize":16,"offset":15},
"transform":[{"filter":"datum.p == 'C'"}],
"encoding":{
"x":{"field":"org","type":"nominal","title":null,"scale":{"type":"band","domain":["S. aureus","CA-MRSA","HA-MRSA"],"paddingInner":0.19,"paddingOuter":0.1,"align":0.5}},
"xOffset":{"field":"mic","type":"nominal","scale":{"type":"band","domain":["1X MIC","2X MIC","4X MIC"],"paddingInner":0.293,"paddingOuter":0.53,"align":0.07}},
"y":{"field":"v","type":"quantitative","scale":{"domain":[0,100]},"axis":{"title":"Inhibition of biofilm formation (%)","titleFontSize":13,"titlePadding":21,"values":[0,5,10,15,20,25,30,35,40,45,50,55,60,65,70,75,80,85,90,95,100],"labelExpr":"datum.value % 20 === 0 ? datum.label : ''","tickSize":{"condition":{"test":"datum.value % 20 === 0","value":5},"value":3}}}},
"layer":[
{"mark":{"type":"bar","strokeWidth":0},"encoding":{"fill":{"condition":[{"test":"datum.mic == '1X MIC'","value":"#dcdcdc"},{"test":"datum.mic == '2X MIC'","value":"#111111"}],"value":"#ffffff"}}},
{"transform":[{"filter":"datum.mic == '4X MIC'"}],"mark":{"type":"rule","color":"#3a3a3a","strokeWidth":13,"strokeDash":[1.4,2.9]},"encoding":{"y2":{"datum":0}}},
{"transform":[{"filter":"datum.mic == '2X MIC'"}],"encoding":{"y2":{"datum":0}},"resolve":{"scale":{"xOffset":"independent"}},"layer":[
{"mark":{"type":"rule","color":"#fff","strokeWidth":2.5,"strokeDash":[2.5,4.74],"strokeDashOffset":0},"encoding":{"xOffset":{"field":"mic","type":"nominal","scale":{"type":"band","domain":["1X MIC","2X MIC","4X MIC"],"paddingInner":1,"paddingOuter":0.8835,"align":0.0919}}}},
{"mark":{"type":"rule","color":"#fff","strokeWidth":2.5,"strokeDash":[2.5,4.74],"strokeDashOffset":3.62},"encoding":{"xOffset":{"field":"mic","type":"nominal","scale":{"type":"band","domain":["1X MIC","2X MIC","4X MIC"],"paddingInner":1,"paddingOuter":0.8835,"align":0.1918}}}},
{"mark":{"type":"rule","color":"#fff","strokeWidth":2.5,"strokeDash":[2.5,4.74],"strokeDashOffset":0},"encoding":{"xOffset":{"field":"mic","type":"nominal","scale":{"type":"band","domain":["1X MIC","2X MIC","4X MIC"],"paddingInner":1,"paddingOuter":0.8835,"align":0.2917}}}},
{"mark":{"type":"rule","color":"#fff","strokeWidth":2.5,"strokeDash":[2.5,4.74],"strokeDashOffset":3.62},"encoding":{"xOffset":{"field":"mic","type":"nominal","scale":{"type":"band","domain":["1X MIC","2X MIC","4X MIC"],"paddingInner":1,"paddingOuter":0.8835,"align":0.3917}}}}
]},
{"transform":[{"filter":"datum.mic == '1X MIC'"}],"encoding":{"y2":{"datum":0}},"resolve":{"scale":{"xOffset":"independent"}},"layer":[
{"mark":{"type":"rule","color":"#3a3a3a","strokeWidth":1.55,"strokeDash":[1.45,2.9],"strokeDashOffset":0},"encoding":{"xOffset":{"field":"mic","type":"nominal","scale":{"type":"band","domain":["1X MIC","2X MIC","4X MIC"],"paddingInner":1,"paddingOuter":0.8835,"align":0.0620}}}},
{"mark":{"type":"rule","color":"#3a3a3a","strokeWidth":1.55,"strokeDash":[1.45,2.9],"strokeDashOffset":1.45},"encoding":{"xOffset":{"field":"mic","type":"nominal","scale":{"type":"band","domain":["1X MIC","2X MIC","4X MIC"],"paddingInner":1,"paddingOuter":0.8835,"align":0.1019}}}},
{"mark":{"type":"rule","color":"#3a3a3a","strokeWidth":1.55,"strokeDash":[1.45,2.9],"strokeDashOffset":2.9},"encoding":{"xOffset":{"field":"mic","type":"nominal","scale":{"type":"band","domain":["1X MIC","2X MIC","4X MIC"],"paddingInner":1,"paddingOuter":0.8835,"align":0.1419}}}},
{"mark":{"type":"rule","color":"#3a3a3a","strokeWidth":1.55,"strokeDash":[1.45,2.9],"strokeDashOffset":0},"encoding":{"xOffset":{"field":"mic","type":"nominal","scale":{"type":"band","domain":["1X MIC","2X MIC","4X MIC"],"paddingInner":1,"paddingOuter":0.8835,"align":0.1819}}}},
{"mark":{"type":"rule","color":"#3a3a3a","strokeWidth":1.55,"strokeDash":[1.45,2.9],"strokeDashOffset":1.45},"encoding":{"xOffset":{"field":"mic","type":"nominal","scale":{"type":"band","domain":["1X MIC","2X MIC","4X MIC"],"paddingInner":1,"paddingOuter":0.8835,"align":0.2219}}}},
{"mark":{"type":"rule","color":"#3a3a3a","strokeWidth":1.55,"strokeDash":[1.45,2.9],"strokeDashOffset":2.9},"encoding":{"xOffset":{"field":"mic","type":"nominal","scale":{"type":"band","domain":["1X MIC","2X MIC","4X MIC"],"paddingInner":1,"paddingOuter":0.8835,"align":0.2619}}}},
{"mark":{"type":"rule","color":"#3a3a3a","strokeWidth":1.55,"strokeDash":[1.45,2.9],"strokeDashOffset":0},"encoding":{"xOffset":{"field":"mic","type":"nominal","scale":{"type":"band","domain":["1X MIC","2X MIC","4X MIC"],"paddingInner":1,"paddingOuter":0.8835,"align":0.3019}}}},
{"mark":{"type":"rule","color":"#3a3a3a","strokeWidth":1.55,"strokeDash":[1.45,2.9],"strokeDashOffset":1.45},"encoding":{"xOffset":{"field":"mic","type":"nominal","scale":{"type":"band","domain":["1X MIC","2X MIC","4X MIC"],"paddingInner":1,"paddingOuter":0.8835,"align":0.3419}}}},
{"mark":{"type":"rule","color":"#3a3a3a","strokeWidth":1.55,"strokeDash":[1.45,2.9],"strokeDashOffset":2.9},"encoding":{"xOffset":{"field":"mic","type":"nominal","scale":{"type":"band","domain":["1X MIC","2X MIC","4X MIC"],"paddingInner":1,"paddingOuter":0.8835,"align":0.3819}}}},
{"mark":{"type":"rule","color":"#3a3a3a","strokeWidth":1.55,"strokeDash":[1.45,2.9],"strokeDashOffset":0},"encoding":{"xOffset":{"field":"mic","type":"nominal","scale":{"type":"band","domain":["1X MIC","2X MIC","4X MIC"],"paddingInner":1,"paddingOuter":0.8835,"align":0.4219}}}}
]},
{"mark":{"type":"bar","fillOpacity":0,"stroke":"black","strokeWidth":1.6}},
{"mark":{"type":"rule","color":"black","strokeWidth":1.5},"encoding":{"y":{"field":"hi","type":"quantitative"},"y2":{"field":"v"}}},
{"mark":{"type":"tick","color":"black","thickness":1.5,"size":7},"encoding":{"y":{"field":"hi","type":"quantitative"}}},
{"transform":[{"filter":"datum.sig != ''"}],"mark":{"type":"text","fontSize":11,"fontWeight":"bold","baseline":"alphabetic","dy":-3},"encoding":{"y":{"field":"hi","type":"quantitative"},"text":{"field":"sig"}}}
]}
]},
{"width":305,"height":201,
"title":{"text":"F)","anchor":"start","frame":"bounds","fontSize":16,"offset":6},
"transform":[{"filter":"datum.p == 'F'"}],
"encoding":{
"x":{"field":"org","type":"nominal","title":null,"scale":{"type":"band","domain":["S. aureus","CA-MRSA","HA-MRSA"],"paddingInner":0.19,"paddingOuter":0.1,"align":0.6}},
"xOffset":{"field":"mic","type":"nominal","scale":{"type":"band","domain":["1X MIC","2X MIC","4X MIC"],"paddingInner":0.3,"paddingOuter":0.15}},
"y":{"field":"v","type":"quantitative","scale":{"domain":[0,100]},"axis":{"title":"Biofilm destruction (%)","titleFontSize":16,"titlePadding":16,"values":[0,5,10,15,20,25,30,35,40,45,50,55,60,65,70,75,80,85,90,95,100],"labelExpr":"datum.value % 20 === 0 ? datum.label : ''","tickSize":{"condition":{"test":"datum.value % 20 === 0","value":5},"value":3}}}},
"layer":[
{"mark":{"type":"bar","strokeWidth":0},"encoding":{"fill":{"condition":[{"test":"datum.mic == '1X MIC'","value":"#dcdcdc"},{"test":"datum.mic == '2X MIC'","value":"#111111"}],"value":"#ffffff"}}},
{"transform":[{"filter":"datum.mic == '4X MIC'"}],"mark":{"type":"rule","color":"#3a3a3a","strokeWidth":17.7,"strokeDash":[1.4,2.9]},"encoding":{"y2":{"datum":0}}},
{"transform":[{"filter":"datum.mic == '2X MIC'"}],"encoding":{"y2":{"datum":0}},"resolve":{"scale":{"xOffset":"independent"}},"layer":[
{"mark":{"type":"rule","color":"#fff","strokeWidth":3.1,"strokeDash":[3.1,5.9],"strokeDashOffset":0},"encoding":{"xOffset":{"field":"mic","type":"nominal","scale":{"type":"band","domain":["1X MIC","2X MIC","4X MIC"],"paddingInner":1,"paddingOuter":0.5,"align":0.2375}}}},
{"mark":{"type":"rule","color":"#fff","strokeWidth":3.1,"strokeDash":[3.1,5.9],"strokeDashOffset":4.5},"encoding":{"xOffset":{"field":"mic","type":"nominal","scale":{"type":"band","domain":["1X MIC","2X MIC","4X MIC"],"paddingInner":1,"paddingOuter":0.5,"align":0.4125}}}},
{"mark":{"type":"rule","color":"#fff","strokeWidth":3.1,"strokeDash":[3.1,5.9],"strokeDashOffset":0},"encoding":{"xOffset":{"field":"mic","type":"nominal","scale":{"type":"band","domain":["1X MIC","2X MIC","4X MIC"],"paddingInner":1,"paddingOuter":0.5,"align":0.5875}}}},
{"mark":{"type":"rule","color":"#fff","strokeWidth":3.1,"strokeDash":[3.1,5.9],"strokeDashOffset":4.5},"encoding":{"xOffset":{"field":"mic","type":"nominal","scale":{"type":"band","domain":["1X MIC","2X MIC","4X MIC"],"paddingInner":1,"paddingOuter":0.5,"align":0.7625}}}}
]},
{"transform":[{"filter":"datum.mic == '1X MIC'"}],"encoding":{"y2":{"datum":0}},"resolve":{"scale":{"xOffset":"independent"}},"layer":[
{"mark":{"type":"rule","color":"#3a3a3a","strokeWidth":1.6,"strokeDash":[1.5,3],"strokeDashOffset":0},"encoding":{"xOffset":{"field":"mic","type":"nominal","scale":{"type":"band","domain":["1X MIC","2X MIC","4X MIC"],"paddingInner":1,"paddingOuter":0.5,"align":0.1792}}}},
{"mark":{"type":"rule","color":"#3a3a3a","strokeWidth":1.6,"strokeDash":[1.5,3],"strokeDashOffset":1.5},"encoding":{"xOffset":{"field":"mic","type":"nominal","scale":{"type":"band","domain":["1X MIC","2X MIC","4X MIC"],"paddingInner":1,"paddingOuter":0.5,"align":0.2375}}}},
{"mark":{"type":"rule","color":"#3a3a3a","strokeWidth":1.6,"strokeDash":[1.5,3],"strokeDashOffset":3},"encoding":{"xOffset":{"field":"mic","type":"nominal","scale":{"type":"band","domain":["1X MIC","2X MIC","4X MIC"],"paddingInner":1,"paddingOuter":0.5,"align":0.2958}}}},
{"mark":{"type":"rule","color":"#3a3a3a","strokeWidth":1.6,"strokeDash":[1.5,3],"strokeDashOffset":0},"encoding":{"xOffset":{"field":"mic","type":"nominal","scale":{"type":"band","domain":["1X MIC","2X MIC","4X MIC"],"paddingInner":1,"paddingOuter":0.5,"align":0.3542}}}},
{"mark":{"type":"rule","color":"#3a3a3a","strokeWidth":1.6,"strokeDash":[1.5,3],"strokeDashOffset":1.5},"encoding":{"xOffset":{"field":"mic","type":"nominal","scale":{"type":"band","domain":["1X MIC","2X MIC","4X MIC"],"paddingInner":1,"paddingOuter":0.5,"align":0.4125}}}},
{"mark":{"type":"rule","color":"#3a3a3a","strokeWidth":1.6,"strokeDash":[1.5,3],"strokeDashOffset":3},"encoding":{"xOffset":{"field":"mic","type":"nominal","scale":{"type":"band","domain":["1X MIC","2X MIC","4X MIC"],"paddingInner":1,"paddingOuter":0.5,"align":0.4708}}}},
{"mark":{"type":"rule","color":"#3a3a3a","strokeWidth":1.6,"strokeDash":[1.5,3],"strokeDashOffset":0},"encoding":{"xOffset":{"field":"mic","type":"nominal","scale":{"type":"band","domain":["1X MIC","2X MIC","4X MIC"],"paddingInner":1,"paddingOuter":0.5,"align":0.5292}}}},
{"mark":{"type":"rule","color":"#3a3a3a","strokeWidth":1.6,"strokeDash":[1.5,3],"strokeDashOffset":1.5},"encoding":{"xOffset":{"field":"mic","type":"nominal","scale":{"type":"band","domain":["1X MIC","2X MIC","4X MIC"],"paddingInner":1,"paddingOuter":0.5,"align":0.5875}}}},
{"mark":{"type":"rule","color":"#3a3a3a","strokeWidth":1.6,"strokeDash":[1.5,3],"strokeDashOffset":3},"encoding":{"xOffset":{"field":"mic","type":"nominal","scale":{"type":"band","domain":["1X MIC","2X MIC","4X MIC"],"paddingInner":1,"paddingOuter":0.5,"align":0.6458}}}},
{"mark":{"type":"rule","color":"#3a3a3a","strokeWidth":1.6,"strokeDash":[1.5,3],"strokeDashOffset":0},"encoding":{"xOffset":{"field":"mic","type":"nominal","scale":{"type":"band","domain":["1X MIC","2X MIC","4X MIC"],"paddingInner":1,"paddingOuter":0.5,"align":0.7042}}}},
{"mark":{"type":"rule","color":"#3a3a3a","strokeWidth":1.6,"strokeDash":[1.5,3],"strokeDashOffset":1.5},"encoding":{"xOffset":{"field":"mic","type":"nominal","scale":{"type":"band","domain":["1X MIC","2X MIC","4X MIC"],"paddingInner":1,"paddingOuter":0.5,"align":0.7625}}}},
{"mark":{"type":"rule","color":"#3a3a3a","strokeWidth":1.6,"strokeDash":[1.5,3],"strokeDashOffset":3},"encoding":{"xOffset":{"field":"mic","type":"nominal","scale":{"type":"band","domain":["1X MIC","2X MIC","4X MIC"],"paddingInner":1,"paddingOuter":0.5,"align":0.8208}}}}
]},
{"mark":{"type":"bar","fillOpacity":0,"stroke":"black","strokeWidth":1.6}},
{"mark":{"type":"rule","color":"black","strokeWidth":1.5},"encoding":{"y":{"field":"hi","type":"quantitative"},"y2":{"field":"v"}}},
{"mark":{"type":"tick","color":"black","thickness":1.5,"size":8},"encoding":{"y":{"field":"hi","type":"quantitative"}}},
{"transform":[{"filter":"datum.sig != ''"}],"mark":{"type":"text","fontSize":11,"fontWeight":"bold","baseline":"alphabetic","dy":-3},"encoding":{"y":{"field":"hi","type":"quantitative"},"text":{"field":"sig"}}}
]}
]}
]
}
